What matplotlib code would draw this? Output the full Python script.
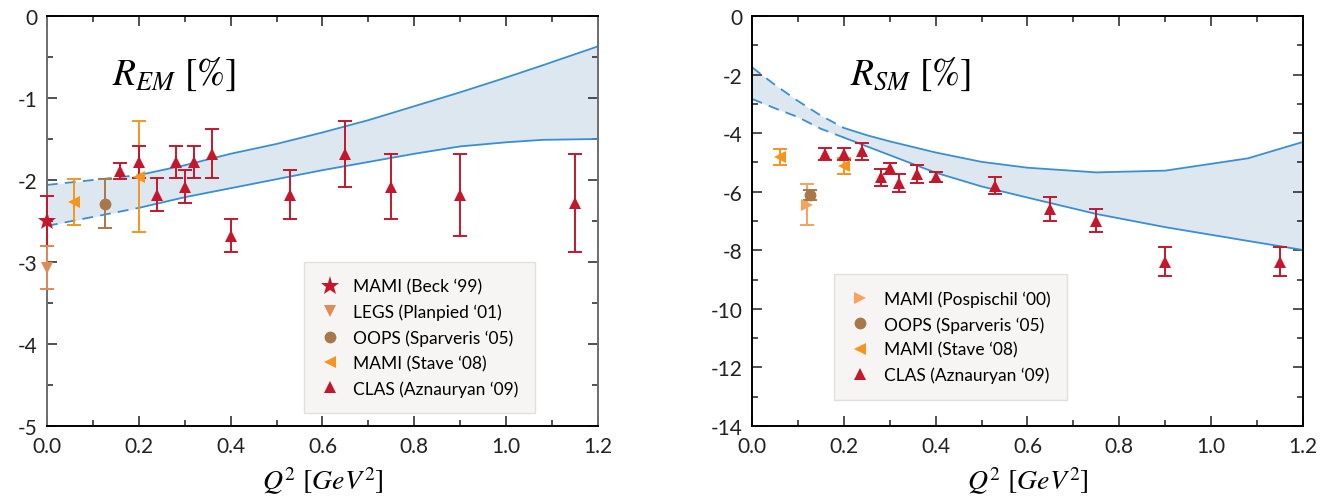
import matplotlib
matplotlib.use("Agg")
import matplotlib.pyplot as plt
from matplotlib.ticker import MultipleLocator, FormatStrFormatter
import numpy as np

plt.rcParams['font.family'] = ['Lato', 'DejaVu Sans']
plt.rcParams['mathtext.fontset'] = 'stix'
plt.rcParams['axes.unicode_minus'] = False

# ---- data: R_EM ----
q2_beck = [0.0]
rem_beck = [-2.50]
rem_beck_err = [0.30]

q2_legs = [0.0]
rem_legs = [-3.07]
rem_legs_err = [0.26]

q2_oops_em = [0.126]
rem_oops = [-2.29]
rem_oops_err = [0.30]

q2_stave_em = [0.06, 0.20]
rem_stave = [-2.27, -1.96]
rem_stave_err = [0.28, 0.68]

q2_clas_em = [0.16, 0.20, 0.24, 0.28, 0.30, 0.32, 0.36, 0.40, 0.53, 0.65, 0.75, 0.90, 1.15]
rem_clas = [-1.89, -1.78, -2.18, -1.78, -2.08, -1.78, -1.68, -2.68, -2.18, -1.68, -2.08, -2.18, -2.28]
rem_clas_err = [0.10, 0.20, 0.20, 0.20, 0.20, 0.20, 0.30, 0.20, 0.30, 0.40, 0.40, 0.50, 0.60]

band_q2_em = [0.0, 0.1, 0.2, 0.3, 0.4, 0.5, 0.6, 0.7, 0.8, 0.9, 1.0, 1.08, 1.2]
band_em_hi = [-2.06, -2.00, -1.94, -1.82, -1.68, -1.56, -1.42, -1.27, -1.10, -0.93, -0.75, -0.60, -0.37]
band_em_lo = [-2.56, -2.45, -2.34, -2.21, -2.10, -1.99, -1.88, -1.78, -1.68, -1.59, -1.54, -1.51, -1.50]

# ---- data: R_SM ----
q2_posp = [0.12]
rsm_posp = [-6.45]
rsm_posp_err = [0.70]

q2_oops_sm = [0.126]
rsm_oops = [-6.11]
rsm_oops_err = [0.18]

q2_stave_sm = [0.06, 0.20]
rsm_stave = [-4.82, -5.11]
rsm_stave_err = [0.27, 0.27]

q2_clas_sm = [0.16, 0.20, 0.24, 0.28, 0.30, 0.32, 0.36, 0.40, 0.53, 0.65, 0.75, 0.90, 1.15]
rsm_clas = [-4.71, -4.71, -4.62, -5.51, -5.20, -5.70, -5.39, -5.49, -5.79, -6.59, -6.99, -8.39, -8.39]
rsm_clas_err = [0.20, 0.20, 0.30, 0.30, 0.18, 0.30, 0.30, 0.18, 0.30, 0.40, 0.40, 0.50, 0.50]

band_q2_sm = [0.0, 0.05, 0.1, 0.15, 0.2, 0.25, 0.3, 0.4, 0.5, 0.6, 0.75, 0.9, 1.08, 1.2]
band_sm_hi = [-1.75, -2.35, -2.90, -3.40, -3.82, -4.07, -4.28, -4.66, -4.98, -5.18, -5.34, -5.28, -4.86, -4.30]
band_sm_lo = [-2.83, -3.15, -3.45, -3.85, -4.15, -4.45, -4.75, -5.35, -5.82, -6.20, -6.76, -7.21, -7.68, -7.99]

red = '#c4172c'
legs_c = '#e08a55'
oops_c = '#a8784a'
stave_c = '#f7941d'
posp_c = '#f7a25e'
band_line = '#3a8fd3'
band_fill = '#dde7f0'

fig = plt.figure(figsize=(13.3, 5.02), dpi=100)
ax1 = fig.add_axes([0.0353, 0.1494, 0.4143, 0.8167])
ax2 = fig.add_axes([0.5654, 0.1494, 0.4143, 0.8167])


def draw_band(ax, q, hi, lo, dash_end):
    q = np.array(q)
    ax.fill_between(q, lo, hi, color=band_fill, lw=0, zorder=1)
    k = list(q).index(dash_end)
    for curve in (hi, lo):
        curve = np.array(curve)
        ax.plot(q[:k + 1], curve[:k + 1], color=band_line, lw=1.3, ls=(0, (6, 4)), zorder=2)
        ax.plot(q[k:], curve[k:], color=band_line, lw=1.3, zorder=2)


def points(ax, x, y, e, color, marker, label, ms=8.5):
    eb = ax.errorbar(x, y, yerr=e, fmt='none', ecolor=color, elinewidth=1.4,
                     capsize=5, capthick=1.4, zorder=3)
    for art in eb.lines[1] + eb.lines[2]:
        art.set_clip_on(False)
    ax.plot(x, y, ls='none', marker=marker, color=color, ms=ms, mew=0,
            label=label, zorder=4, clip_on=False)


def style(ax, ylo, major, minor):
    ax.set_xlim(0, 1.2)
    ax.set_ylim(ylo, 0)
    ax.xaxis.set_major_locator(MultipleLocator(0.2))
    ax.xaxis.set_minor_locator(MultipleLocator(0.1))
    ax.xaxis.set_major_formatter(FormatStrFormatter('%.1f'))
    ax.yaxis.set_major_locator(MultipleLocator(major))
    ax.yaxis.set_minor_locator(MultipleLocator(minor))
    ax.yaxis.set_major_formatter(FormatStrFormatter('%d'))
    ax.tick_params(which='both', direction='in', top=True, right=True,
                   labelsize=15, colors='#222222', width=1.1)
    ax.tick_params(which='major', length=7, pad=7)
    ax.tick_params(which='minor', length=4)
    for s in ax.spines.values():
        s.set_linewidth(1.4)
    ax.set_xlabel(r'$Q^2\ [GeV^2]$', fontsize=20, labelpad=6)


def legend(ax, anchor):
    leg = ax.legend(loc='upper left', bbox_to_anchor=anchor, fontsize=12.5,
                    frameon=True, fancybox=False, handletextpad=0.8, labelspacing=0.52,
                    borderpad=0.95, handlelength=1.1, borderaxespad=0)
    leg.get_frame().set_facecolor('#f6f5f3')
    leg.get_frame().set_edgecolor('#e2e0dd')
    leg.get_frame().set_alpha(1)


draw_band(ax1, band_q2_em, band_em_hi, band_em_lo, 0.2)
points(ax1, q2_beck, rem_beck, rem_beck_err, red, '*', 'MAMI (Beck \u201899)', ms=14)
points(ax1, q2_legs, rem_legs, rem_legs_err, legs_c, 'v', 'LEGS (Planpied \u201801)')
points(ax1, q2_oops_em, rem_oops, rem_oops_err, oops_c, 'o', 'OOPS (Sparveris \u201805)')
points(ax1, q2_stave_em, rem_stave, rem_stave_err, stave_c, '<', 'MAMI (Stave \u201808)')
points(ax1, q2_clas_em, rem_clas, rem_clas_err, red, '^', 'CLAS (Aznauryan \u201809)')
style(ax1, -5, 1, 0.5)
for side in ('left', 'right'):
    ax1.spines[side].set_color('#6e6e6e')
ax1.text(0.118, 0.86, r'$R_{EM}\ [\%]$', transform=ax1.transAxes, fontsize=27, va='center')
legend(ax1, (0.466, 0.40))

draw_band(ax2, band_q2_sm, band_sm_hi, band_sm_lo, 0.2)
points(ax2, q2_posp, rsm_posp, rsm_posp_err, posp_c, '>', 'MAMI (Pospischil \u201800)')
points(ax2, q2_oops_sm, rsm_oops, rsm_oops_err, oops_c, 'o', 'OOPS (Sparveris \u201805)')
points(ax2, q2_stave_sm, rsm_stave, rsm_stave_err, stave_c, '<', 'MAMI (Stave \u201808)')
points(ax2, q2_clas_sm, rsm_clas, rsm_clas_err, red, '^', 'CLAS (Aznauryan \u201809)')
style(ax2, -14, 2, 1)
ax2.text(0.178, 0.86, r'$R_{SM}\ [\%]$', transform=ax2.transAxes, fontsize=27, va='center')
legend(ax2, (0.149, 0.371))

fig.savefig('out.png', dpi=100)
